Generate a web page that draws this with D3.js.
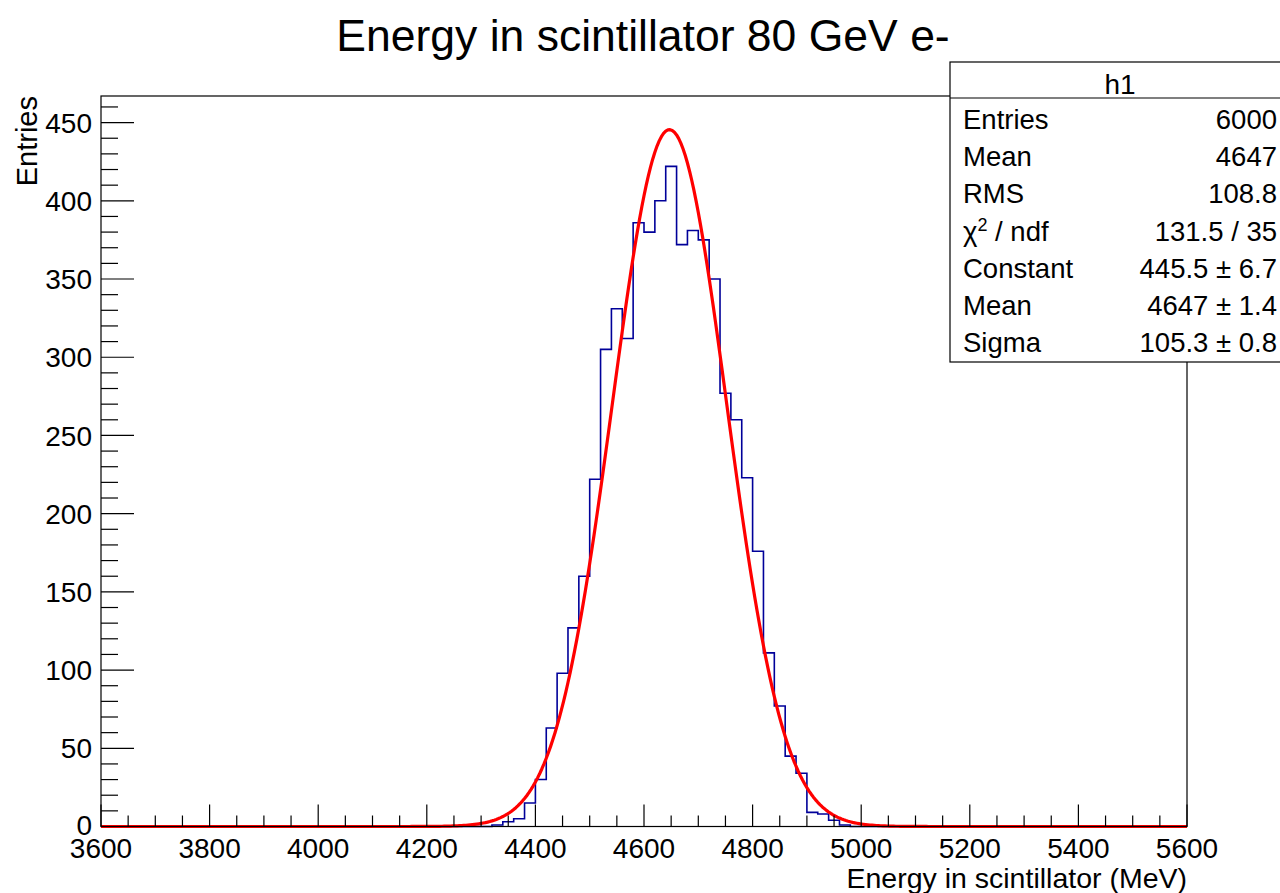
<!DOCTYPE html>
<html>
<head>
<meta charset="utf-8">
<script src="https://cdn.jsdelivr.net/npm/d3@7"></script>
<style>
  html, body { margin: 0; padding: 0; background: #fff; }
  svg { display: block; font-family: "Liberation Sans", Arial, Helvetica, sans-serif; }
</style>
</head>
<body>
<svg id="chart" width="1280" height="893"></svg>
<script>
// ---- data ----
const titleText = "Energy in scintillator 80 GeV e-";
const xTitle = "Energy in scintillator (MeV)";
const yTitle = "Entries";
const xDomain = [3600, 5600];
const yDomain = [0, 467];
const xTickValues = [3600, 3800, 4000, 4200, 4400, 4600, 4800, 5000, 5200, 5400, 5600];
const yTickValues = [0, 50, 100, 150, 200, 250, 300, 350, 400, 450];
const binWidth = 20;
const binLowEdges = [4300, 4320, 4340, 4360, 4380, 4400, 4420, 4440, 4460, 4480,
                     4500, 4520, 4540, 4560, 4580, 4600, 4620, 4640, 4660, 4680,
                     4700, 4720, 4740, 4760, 4780, 4800, 4820, 4840, 4860, 4880,
                     4900, 4920, 4940, 4960, 4980];
const binCounts = [0, 1, 3, 5, 15, 30, 63, 98, 127, 160,
                   222, 305, 331, 312, 386, 380, 400, 422, 372, 381,
                   375, 350, 277, 260, 223, 176, 111, 77, 45, 34,
                   9, 8, 4, 1, 0];
// Gaussian fit parameters (from the stats box)
const fitConstant = 445.5, fitMean = 4647, fitSigma = 105.3;
const fitNpx = 500;
const statsHeader = "h1";
const statsLabels = ["Entries", "Mean", "RMS", "CHI2", "Constant", "Mean", "Sigma"];
const statsValues = ["6000", "4647", "108.8", "131.5 / 35", "445.5 \u00b1 6.7", "4647 \u00b1 1.4", "105.3 \u00b1 0.8"];

// ---- layout ----
const svg = d3.select("#chart");
const F = { left: 101, right: 1187, top: 96, bottom: 826.5 };
const x = d3.scaleLinear().domain(xDomain).range([F.left, F.right]);
const y = d3.scaleLinear().domain(yDomain).range([F.bottom, F.top]);

// title
svg.append("text").attr("x", 643).attr("y", 51).attr("text-anchor", "middle")
  .attr("font-size", 44.5).attr("fill", "#000").text(titleText);

// histogram step outline
const pts = [[xDomain[0], 0], [binLowEdges[0], 0]];
binLowEdges.forEach((e, i) => { pts.push([e, binCounts[i]]); pts.push([e + binWidth, binCounts[i]]); });
pts.push([binLowEdges[binLowEdges.length - 1] + binWidth, 0]);
pts.push([xDomain[1], 0]);
svg.append("path").datum(pts)
  .attr("d", d3.line().x(d => x(d[0])).y(d => y(d[1])))
  .attr("fill", "none").attr("stroke", "#000099").attr("stroke-width", 1.6);

// fit curve
const step = (xDomain[1] - xDomain[0]) / fitNpx;
const fitPts = d3.range(fitNpx + 1).map(i => {
  const xv = xDomain[0] + i * step;
  return [xv, fitConstant * Math.exp(-0.5 * Math.pow((xv - fitMean) / fitSigma, 2))];
});
svg.append("path").datum(fitPts)
  .attr("d", d3.line().x(d => x(d[0])).y(d => y(d[1])))
  .attr("fill", "none").attr("stroke", "#ff0000").attr("stroke-width", 3.2).attr("stroke-linejoin", "round");

// frame
svg.append("rect").attr("x", F.left).attr("y", F.top)
  .attr("width", F.right - F.left).attr("height", F.bottom - F.top)
  .attr("fill", "none").attr("stroke", "#000").attr("stroke-width", 1.2);

// x axis ticks
const xg = svg.append("g");
xg.selectAll("line").data(d3.range(xDomain[0], xDomain[1] + 1, 50)).join("line")
  .attr("x1", d => x(d)).attr("x2", d => x(d))
  .attr("y1", F.bottom).attr("y2", d => F.bottom - (d % 200 === 0 ? 22 : 11))
  .attr("stroke", "#000").attr("stroke-width", 1.2);
xg.selectAll("text").data(xTickValues).join("text")
  .attr("x", d => x(d)).attr("y", 858).attr("text-anchor", "middle")
  .attr("font-size", 28).text(d => d);

// y axis ticks
const yg = svg.append("g");
yg.selectAll("line").data(d3.range(0, yDomain[1], 10)).join("line")
  .attr("x1", F.left).attr("x2", d => F.left + (d % 50 === 0 ? 33 : 17))
  .attr("y1", d => y(d)).attr("y2", d => y(d))
  .attr("stroke", "#000").attr("stroke-width", 1.2);
yg.selectAll("text").data(yTickValues).join("text")
  .attr("x", 92).attr("y", d => y(d) - (d === 0 ? 2 : 0)).attr("dy", "0.36em").attr("text-anchor", "end")
  .attr("font-size", 28).text(d => d);

// axis titles
svg.append("text").attr("x", F.right).attr("y", 888).attr("text-anchor", "end")
  .attr("font-size", 28.5).text(xTitle);
svg.append("text").attr("transform", `translate(37,${F.top}) rotate(-90)`)
  .attr("text-anchor", "end").attr("font-size", 29).text(yTitle);

// stats box
const S = { left: 950, right: 1292, top: 62, bottom: 362, header: 98 };
const sg = svg.append("g");
sg.append("rect").attr("x", S.left).attr("y", S.top).attr("width", S.right - S.left)
  .attr("height", S.bottom - S.top).attr("fill", "#fff").attr("stroke", "#000").attr("stroke-width", 1.2);
sg.append("line").attr("x1", S.left).attr("x2", S.right).attr("y1", S.header).attr("y2", S.header)
  .attr("stroke", "#000").attr("stroke-width", 1.2);
sg.append("text").attr("x", 1120).attr("y", 94).attr("text-anchor", "middle")
  .attr("font-size", 28).text(statsHeader);
statsLabels.forEach((lab, i) => {
  const by = 129 + i * 37.2;
  const t = sg.append("text").attr("x", 963).attr("y", by).attr("font-size", 27.5);
  if (lab === "CHI2") {
    t.append("tspan").text("\u03c7");
    t.append("tspan").attr("font-size", 18).attr("dy", -10).text("2");
    t.append("tspan").attr("dy", 10).text(" / ndf");
  } else {
    t.text(lab);
  }
  sg.append("text").attr("x", 1277).attr("y", by).attr("text-anchor", "end")
    .attr("font-size", 27.5).text(statsValues[i]);
});
</script>
</body>
</html>
